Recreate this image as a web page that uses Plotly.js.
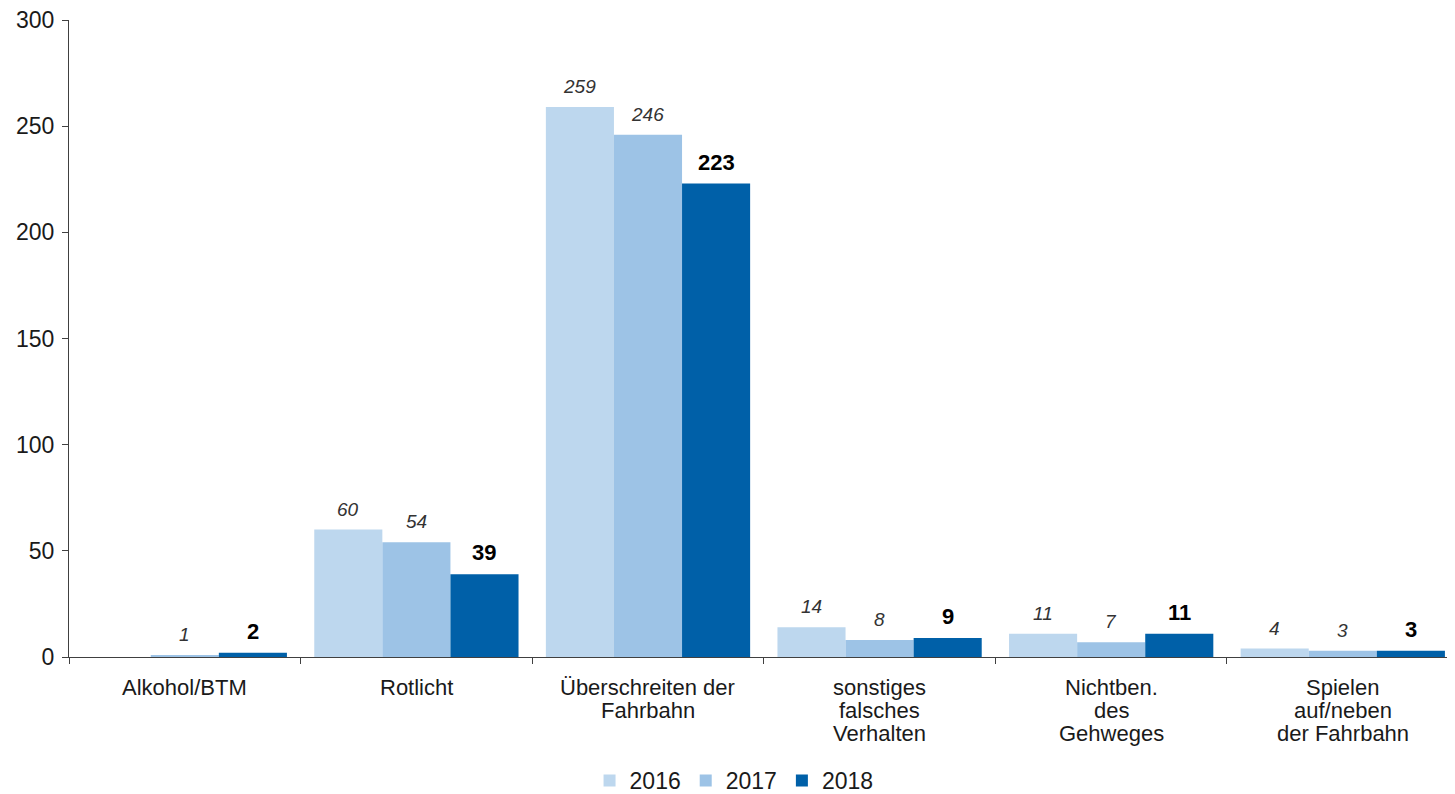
<!DOCTYPE html>
<html>
<head>
<meta charset="utf-8">
<script src="https://cdn.plot.ly/plotly-3.0.1.min.js"></script>
<style>html,body{margin:0;padding:0;background:#fff;}#chart{width:1455px;height:794px;}</style>
</head>
<body>
<div id="chart"></div>
<script>
const categories = ["Alkohol/BTM", "Rotlicht", "Überschreiten der<br>Fahrbahn", "sonstiges<br>falsches<br>Verhalten", "Nichtben.<br>des<br>Gehweges", "Spielen<br>auf/neben<br>der Fahrbahn"];
const years = ["2016", "2017", "2018"];
const values2016 = [0, 60, 259, 14, 11, 4];
const values2017 = [1, 54, 246, 8, 7, 3];
const values2018 = [2, 39, 223, 9, 11, 3];
const yTicks = [0, 50, 100, 150, 200, 250, 300];

const colors = ["#BDD7EE", "#9DC3E6", "#0060A8"];
const series = [values2016, values2017, values2018];
const bargap = 0.118;
const barW = (1 - bargap) / 3;
const FONT = "Liberation Sans, Arial, sans-serif";

const traces = series.map((vals, i) => ({
  type: "bar",
  name: years[i],
  x: categories,
  y: vals,
  marker: {color: colors[i], line: {width: 0}},
  hoverinfo: "none"
}));

const annotations = [];
series.forEach((vals, i) => {
  const bold = i === 2;
  vals.forEach((v, j) => {
    if (!v) return;
    annotations.push({
      x: j + (i - 1) * barW,
      y: v,
      xref: "x", yref: "y",
      text: bold ? "<b>" + v + "</b>" : "<i>" + v + "</i>",
      showarrow: false,
      yanchor: "bottom",
      yshift: bold ? 7 : 8,
      font: {family: FONT, size: bold ? 22 : 19, color: bold ? "#000000" : "#333333"}
    });
  });
});

// category labels, one annotation per line for tight line spacing
categories.forEach((c, j) => {
  c.split("<br>").forEach((line, k) => {
    annotations.push({
      x: j, y: 0, xref: "x", yref: "paper",
      text: line, showarrow: false,
      yanchor: "middle",
      yshift: -(30 + k * 23),
      font: {family: FONT, size: 22, color: "#1a1a1a"}
    });
  });
});

const layout = {
  width: 1455, height: 794,
  margin: {l: 69, r: 8, t: 20, b: 137},
  paper_bgcolor: "#ffffff", plot_bgcolor: "#ffffff",
  barmode: "group",
  bargap: bargap,
  bargroupgap: 0,
  font: {family: FONT, size: 21, color: "#1a1a1a"},
  xaxis: {
    type: "category",
    showline: true, linecolor: "#404040", linewidth: 1,
    ticks: "outside", tickson: "boundaries", ticklen: 6, tickcolor: "#404040",
    showgrid: false, zeroline: false,
    showticklabels: false,
    range: [-0.5, 5.45], fixedrange: true
  },
  yaxis: {
    range: [0, 300],
    tickvals: yTicks,
    ticktext: yTicks.map(String),
    showline: true, linecolor: "#404040", linewidth: 1,
    ticks: "outside", ticklen: 6, tickcolor: "#404040",
    showgrid: false, zeroline: false,
    tickfont: {family: FONT, size: 23, color: "#1a1a1a"},
    ticklabelstandoff: 3
  },
  showlegend: true,
  legend: {
    orientation: "h",
    xref: "container", yref: "container",
    x: 0.5045, xanchor: "center",
    y: 0.017, yanchor: "middle",
    font: {family: FONT, size: 23, color: "#1a1a1a"},
    itemwidth: 30,
    tracegroupgap: 0
  },
  annotations: annotations
};

Plotly.newPlot("chart", traces, layout, {staticPlot: true, displayModeBar: false});
</script>
</body>
</html>
